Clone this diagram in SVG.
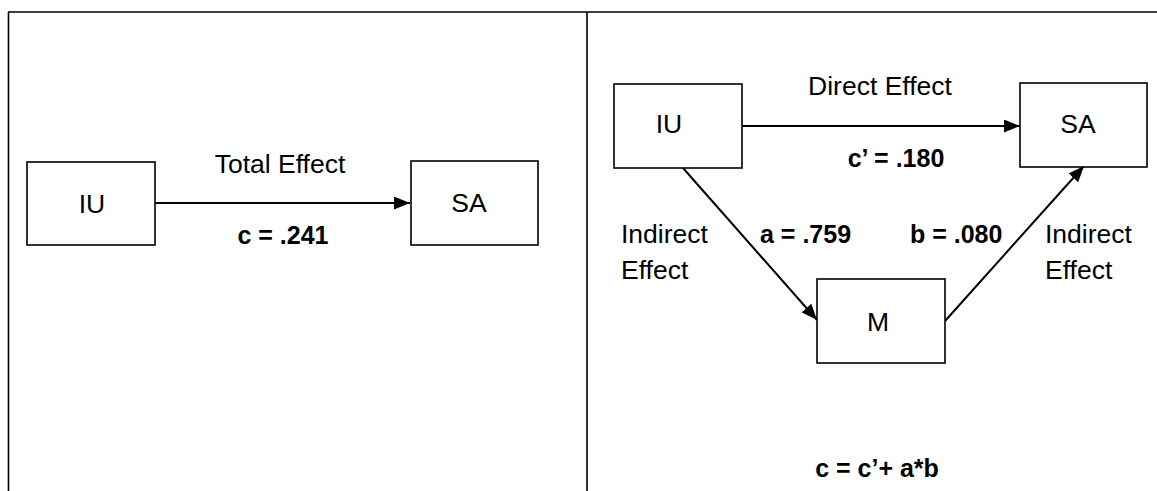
<svg xmlns="http://www.w3.org/2000/svg" width="1157" height="491" viewBox="0 0 1157 491">
<style>
.frame{stroke:#000;stroke-width:1.6;fill:none}
.box{fill:#fff;stroke:#000;stroke-width:1.6}
.edge{stroke:#000;stroke-width:2;fill:none}
.t{font-family:"Liberation Sans",Arial,sans-serif;font-size:26.5px;fill:#000}
.b{font-family:"Liberation Sans",Arial,sans-serif;font-size:25px;font-weight:bold;fill:#000}
.m{text-anchor:middle}
</style>
<defs>
<marker id="arr" viewBox="0 0 16 13" refX="16" refY="6.5" markerWidth="16" markerHeight="13" markerUnits="userSpaceOnUse" orient="auto">
<path d="M0,0 L16,6.5 L0,13 Z" fill="#000"/>
</marker>
</defs>
<rect width="1157" height="491" fill="#fff"/>
<g id="frame">
<line class="frame" x1="8" y1="12" x2="1157" y2="12"/>
<line class="frame" x1="8.5" y1="12" x2="8.5" y2="491"/>
<line class="frame" x1="587" y1="12" x2="587" y2="491"/>
</g>
<g id="connectors">
<line class="edge" x1="155" y1="203" x2="410" y2="203" marker-end="url(#arr)"/>
<line class="edge" x1="742" y1="126" x2="1020" y2="126" marker-end="url(#arr)"/>
<line class="edge" x1="683" y1="168" x2="817" y2="320" marker-end="url(#arr)"/>
<line class="edge" x1="945" y1="321" x2="1084" y2="166" marker-end="url(#arr)"/>
</g>
<g id="left-IU"><rect class="box" x="27" y="162" width="128" height="83"/><text class="t m" x="92" y="213">IU</text></g>
<g id="left-SA"><rect class="box" x="411" y="161" width="127" height="84"/><text class="t m" x="469" y="212">SA</text></g>
<g id="right-IU"><rect class="box" x="614" y="84" width="128" height="84"/><text class="t m" x="669" y="133">IU</text></g>
<g id="right-SA"><rect class="box" x="1020" y="83" width="127" height="84"/><text class="t m" x="1078" y="133">SA</text></g>
<g id="right-M"><rect class="box" x="817" y="279" width="128" height="84"/><text class="t m" x="878" y="331">M</text></g>
<g id="labels">
<text class="t m" x="280" y="173">Total Effect</text>
<text class="b m" x="283" y="244">c = .241</text>
<text class="t m" x="880" y="95">Direct Effect</text>
<text class="b m" x="896" y="167">c’ = .180</text>
<text class="t" x="621" y="243">Indirect</text>
<text class="t" x="621" y="279">Effect</text>
<text class="b" x="760" y="243">a = .759</text>
<text class="b" x="910" y="243">b = .080</text>
<text class="t" x="1045" y="243">Indirect</text>
<text class="t" x="1045" y="279">Effect</text>
<text class="b m" x="877" y="477">c = c’+ a*b</text>
</g>
</svg>
